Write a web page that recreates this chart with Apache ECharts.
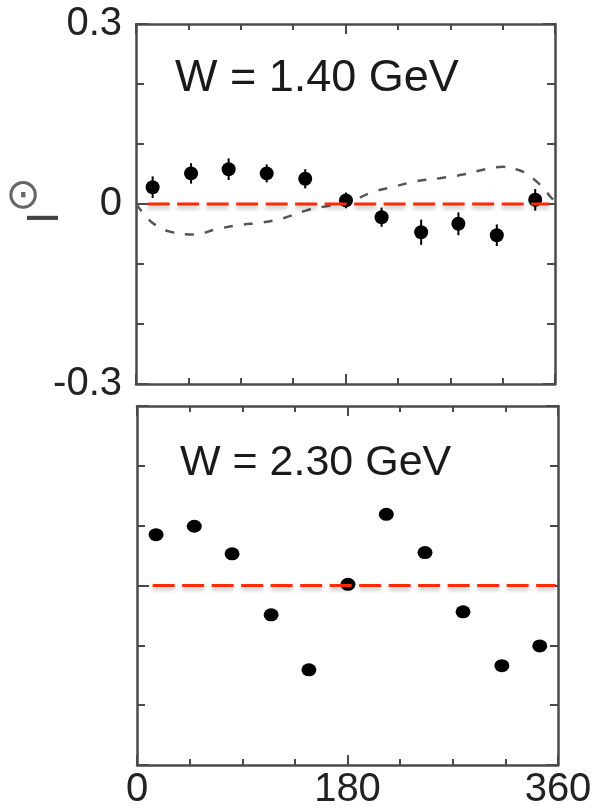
<!DOCTYPE html>
<html>
<head>
<meta charset="utf-8">
<script src="https://cdn.jsdelivr.net/npm/echarts@6/dist/echarts.min.js"></script>
<style>
html,body{margin:0;padding:0;background:#fff;}
#chart{width:596px;height:810px;}
</style>
</head>
<body>
<div id="chart"></div>
<script>
// ---- data ----
const panelTitles = ['W = 1.40 GeV', 'W = 2.30 GeV'];
const xTickLabels = ['0', '180', '360'];
const yTickLabels = ['-0.3', '0', '0.3'];

// W = 1.40 GeV : measured asymmetry with errors
const phi14 = [14.3, 47.3, 79.6, 112.3, 145.4, 180.4, 211, 245, 277, 310, 343];
const asym14 = [0.028, 0.051, 0.058, 0.051, 0.042, 0.006, -0.022, -0.047, -0.033, -0.052, 0.007];
const err14 = [0.018, 0.017, 0.018, 0.015, 0.016, 0.013, 0.016, 0.021, 0.019, 0.018, 0.018];

// W = 1.40 GeV : model curve (dashed grey)
const phiModel14 = [0, 4, 10, 16, 29, 50, 69, 89, 108, 126, 146, 166, 180, 202, 222, 241, 261, 281, 300, 315, 328, 336, 345, 351, 356, 360];
const model14 = [0, -0.010, -0.024, -0.034, -0.046, -0.051, -0.042, -0.035, -0.031, -0.024, -0.011, -0.003, 0.0, 0.019, 0.029, 0.038, 0.043, 0.049, 0.058, 0.062, 0.057, 0.050, 0.036, 0.025, 0.012, 0.005];

// W = 2.30 GeV : measured asymmetry
const phi23 = [16.3, 49, 81.3, 114.7, 147, 180.4, 213.2, 246.3, 278.8, 312, 344.4];
const asym23 = [0.085, 0.099, 0.053, -0.049, -0.141, 0.002, 0.119, 0.055, -0.044, -0.134, -0.101];

// zero reference lines (phi extent, level)
const zeroLine14 = {from: 10, to: 355, level: 0};
const zeroLine23 = {from: 13.4, to: 358, level: 0};

// ---- chart ----
const frameColor = '#4a4a4a';
const labelFont = 'Liberation Sans, Arial, Helvetica, sans-serif';

function xAxisPair(gi, showLabels) {
  const base = {
    type: 'value', gridIndex: gi, min: 0, max: 360, interval: 180,
    axisLine: {show: true, onZero: false, lineStyle: {color: frameColor, width: 2.5}},
    axisTick: {show: true, inside: true, length: 10, lineStyle: {color: frameColor, width: 2}},
    minorTick: {show: true, splitNumber: 4, length: 6, lineStyle: {color: frameColor, width: 2}},
    splitLine: {show: false}, minorSplitLine: {show: false}
  };
  return [
    Object.assign({}, base, {position: 'bottom',
      axisLabel: {show: showLabels, fontSize: 40, color: '#222', fontFamily: labelFont, margin: 5,
        formatter: (v, i) => xTickLabels[i]}}),
    Object.assign({}, base, {position: 'top', axisLabel: {show: false}})
  ];
}
function yAxisPair(gi, showLabels) {
  const base = {
    type: 'value', gridIndex: gi, min: -0.3, max: 0.3, interval: 0.3,
    axisLine: {show: true, onZero: false, lineStyle: {color: frameColor, width: 2.5}},
    axisTick: {show: true, inside: true, length: 12, lineStyle: {color: frameColor, width: 2}},
    minorTick: {show: true, splitNumber: 3, length: 8, lineStyle: {color: frameColor, width: 2}},
    splitLine: {show: false}, minorSplitLine: {show: false}
  };
  return [
    Object.assign({}, base, {position: 'left',
      axisLabel: {show: showLabels, fontSize: 40, color: '#222', fontFamily: labelFont, margin: 14,
        formatter: (v, i) => yTickLabels[i]}}),
    Object.assign({}, base, {position: 'right', axisLabel: {show: false}})
  ];
}

function errorBarSeries(xAxisIndex, yAxisIndex, xs, ys, es) {
  return {
    type: 'custom', xAxisIndex, yAxisIndex, silent: true, z: 3,
    data: xs.map((x, i) => [x, ys[i], es[i]]),
    renderItem: function (params, api) {
      const x = api.value(0), y = api.value(1), e = api.value(2);
      const p1 = api.coord([x, y + e]);
      const p2 = api.coord([x, y - e]);
      return {type: 'line', shape: {x1: p1[0], y1: p1[1], x2: p2[0], y2: p2[1]},
        style: {stroke: '#000', lineWidth: 2}};
    }
  };
}
function zeroLineSeries(xAxisIndex, yAxisIndex, zl) {
  return {
    type: 'line', xAxisIndex, yAxisIndex, silent: true, z: 6, symbol: 'none',
    data: [[zl.from, zl.level], [zl.to, zl.level]],
    lineStyle: {color: '#ff2a08', width: 3, type: [22, 7.5],
      shadowColor: 'rgba(0,0,0,0.28)', shadowBlur: 4, shadowOffsetY: 3}
  };
}

const chart = echarts.init(document.getElementById('chart'), null, {renderer: 'canvas'});
const xa0 = xAxisPair(0, false), xa1 = xAxisPair(1, true);
const ya0 = yAxisPair(0, true), ya1 = yAxisPair(1, false);

chart.setOption({
  animation: false,
  backgroundColor: '#fff',
  grid: [
    {left: 136, top: 24, width: 419, height: 360, outerBoundsMode: 'none', containLabel: false},
    {left: 137, top: 406, width: 421, height: 359, outerBoundsMode: 'none', containLabel: false}
  ],
  xAxis: [xa0[0], xa0[1], xa1[0], xa1[1]],
  yAxis: [ya0[0], ya0[1], ya1[0], ya1[1]],
  graphic: [
    {type: 'text', x: 175, y: 79, style: {text: panelTitles[0], fontSize: 45, fontFamily: labelFont,
      fill: '#1a1a1a', align: 'left', verticalAlign: 'middle'}},
    {type: 'text', x: 180, y: 463, style: {text: panelTitles[1], fontSize: 43, fontFamily: labelFont,
      fill: '#1a1a1a', align: 'left', verticalAlign: 'middle'}},
    {type: 'text', x: 45.5, y: 218, rotation: Math.PI / 2, style: {text: 'I', fontSize: 44, fontFamily: labelFont,
      fill: '#444', align: 'center', verticalAlign: 'middle'}},
    {type: 'text', x: 23, y: 197, style: {text: '⊙', fontSize: 42, fontFamily: 'DejaVu Sans',
      fill: '#666', align: 'center', verticalAlign: 'middle'}}
  ],
  series: [
    {
      type: 'line', xAxisIndex: 0, yAxisIndex: 0, silent: true, z: 2, symbol: 'none', smooth: 0.4,
      data: phiModel14.map((x, i) => [x, model14[i]]),
      lineStyle: {color: '#555', width: 2.5, type: [9, 11]}
    },
    errorBarSeries(0, 0, phi14, asym14, err14),
    {
      type: 'scatter', xAxisIndex: 0, yAxisIndex: 0, silent: true, z: 4,
      symbol: 'circle', symbolSize: 14,
      data: phi14.map((x, i) => [x, asym14[i]]),
      itemStyle: {color: '#000', opacity: 1}
    },
    zeroLineSeries(0, 0, zeroLine14),
    {
      type: 'scatter', xAxisIndex: 2, yAxisIndex: 2, silent: true, z: 4,
      symbol: 'circle', symbolSize: [15, 13],
      data: phi23.map((x, i) => [x, asym23[i]]),
      itemStyle: {color: '#000', opacity: 1}
    },
    zeroLineSeries(2, 2, zeroLine23)
  ]
});
</script>
</body>
</html>
